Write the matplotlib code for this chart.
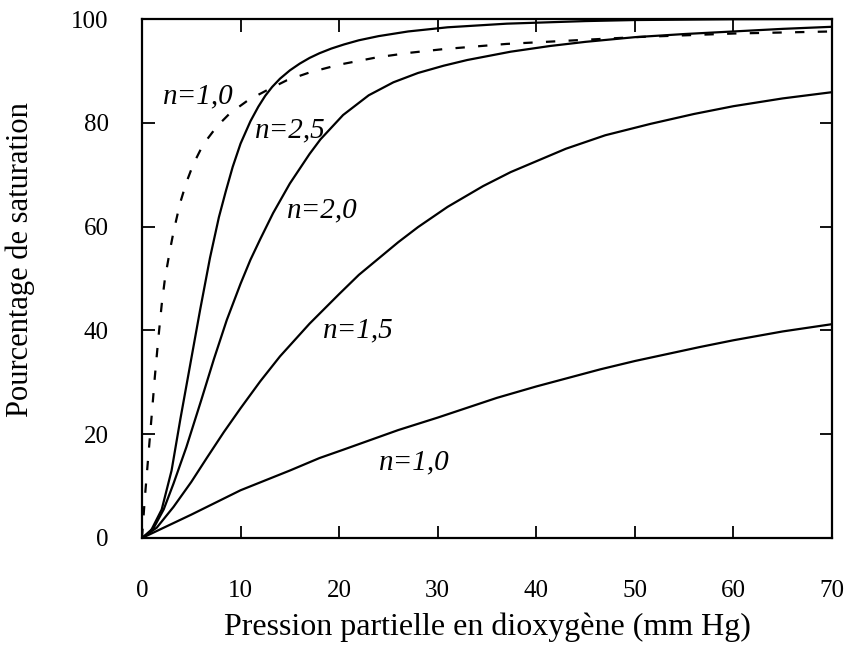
import matplotlib
matplotlib.use("Agg")
import matplotlib.pyplot as plt

plt.rcParams['font.family'] = ['Liberation Serif', 'DejaVu Serif']

# Hill curves (x: pO2 mm Hg, y: % saturation)
x_n25 = [0, 0.8, 2.0, 3.0, 3.9, 4.9, 5.9, 6.9, 7.8, 8.5, 9.2, 10.0, 11.0, 11.8, 12.5, 13.2, 14.0, 15.0, 16.0, 17.0, 18.0, 19.2, 20.5, 22.0, 24.0, 27.0, 31.0, 37.0, 45.0, 50.0, 60.0, 70.0]
y_n25 = [0, 1.0, 5.5, 13.0, 23.0, 33.5, 44.0, 54.0, 61.8, 66.8, 71.5, 76.0, 80.3, 83.1, 85.2, 86.9, 88.5, 90.1, 91.4, 92.5, 93.4, 94.3, 95.1, 95.9, 96.7, 97.6, 98.4, 99.1, 99.6, 99.8, 99.95, 100.0]

x_n20 = [0, 1.2, 2.2, 3.2, 4.5, 6.0, 7.3, 8.6, 10.0, 11.0, 12.0, 13.3, 15.0, 17.0, 18.1, 20.4, 23.0, 25.5, 28.0, 30.6, 33.0, 37.4, 41.4, 45.0, 50.0, 55.0, 60.0, 65.0, 70.0]
y_n20 = [0, 2.0, 5.5, 10.5, 17.5, 26.5, 34.5, 42.0, 49.0, 53.6, 57.6, 62.6, 68.3, 74.0, 76.8, 81.5, 85.3, 87.8, 89.6, 91.0, 92.1, 93.7, 94.8, 95.6, 96.5, 97.1, 97.6, 98.1, 98.5]

x_n15 = [0, 1.5, 3.2, 5.0, 6.6, 8.3, 10.0, 12.0, 14.0, 17.0, 20.0, 22.0, 26.0, 28.0, 31.0, 34.6, 37.4, 43.0, 47.0, 51.6, 56.0, 60.0, 65.0, 70.0]
y_n15 = [0, 2.0, 6.0, 10.8, 15.5, 20.4, 25.0, 30.2, 35.0, 41.3, 47.0, 50.7, 57.0, 59.9, 63.8, 67.8, 70.5, 75.0, 77.6, 79.8, 81.7, 83.2, 84.7, 85.9]

x_n10 = [0, 5.0, 10.0, 15.0, 18.0, 20.4, 26.0, 30.0, 36.0, 40.0, 46.5, 50.0, 56.6, 60.0, 65.0, 70.0]
y_n10 = [0, 4.5, 9.2, 13.0, 15.4, 17.0, 20.8, 23.2, 27.0, 29.2, 32.5, 34.1, 36.8, 38.1, 39.8, 41.2]

x_dash = [0, 0.3, 0.65, 1.0, 1.3, 1.66, 2.0, 2.33, 2.84, 3.2, 3.86, 4.5, 5.2, 6.2, 7.6, 8.9, 10.8, 12.7, 14.7, 17.0, 20.0, 23.8, 27.2, 30.6, 37.0, 40.0, 50.0, 60.0, 70.0]
y_dash = [0, 8.0, 16.0, 24.0, 31.0, 38.5, 45.0, 50.0, 55.5, 59.0, 64.5, 68.5, 72.0, 75.8, 79.3, 81.8, 84.4, 86.3, 88.2, 89.7, 91.2, 92.6, 93.5, 94.2, 95.2, 95.5, 96.5, 97.2, 97.6]

labels = ["n=1,0", "n=2,5", "n=2,0", "n=1,5", "n=1,0"]
label_pos = [(2.1, 85.0), (11.5, 78.6), (14.7, 63.2), (18.4, 40.0), (24.0, 14.5)]

x_ticks = [0, 10, 20, 30, 40, 50, 60, 70]
y_ticks = [0, 20, 40, 60, 80, 100]

fig = plt.figure(figsize=(8.47, 6.53), dpi=100)
ax = fig.add_axes([142/847, 115/653, 690/847, 519/653])

lw = 1.6
for xs, ys in [(x_n25, y_n25), (x_n20, y_n20), (x_n15, y_n15), (x_n10, y_n10)]:
    ax.plot(xs, ys, color='black', lw=lw, solid_joinstyle='round',
            solid_capstyle='round')
ax.plot(x_dash, y_dash, color='black', lw=lw, linestyle=(0, (4.2, 6.0)))

for txt, (tx, ty) in zip(labels, label_pos):
    ax.text(tx, ty, txt, fontsize=21, style='italic', ha='left', va='center')

ax.set_xlim(0, 70)
ax.set_ylim(0, 100)
ax.set_xticks(x_ticks)
ax.set_yticks(y_ticks)
ax.tick_params(direction='in', length=9, width=1.3, top=True, right=True,
               labelsize=18)
ax.tick_params(axis='x', pad=30)
ax.tick_params(axis='y', pad=24)
for s in ax.spines.values():
    s.set_linewidth(1.6)

ax.set_xlabel("Pression partielle en dioxygène (mm Hg)", fontsize=23, labelpad=8)
ax.set_ylabel("Pourcentage de saturation", fontsize=22)
ax.yaxis.set_label_coords(-0.155, 0.537)

fig.savefig("out.png", dpi=100)
